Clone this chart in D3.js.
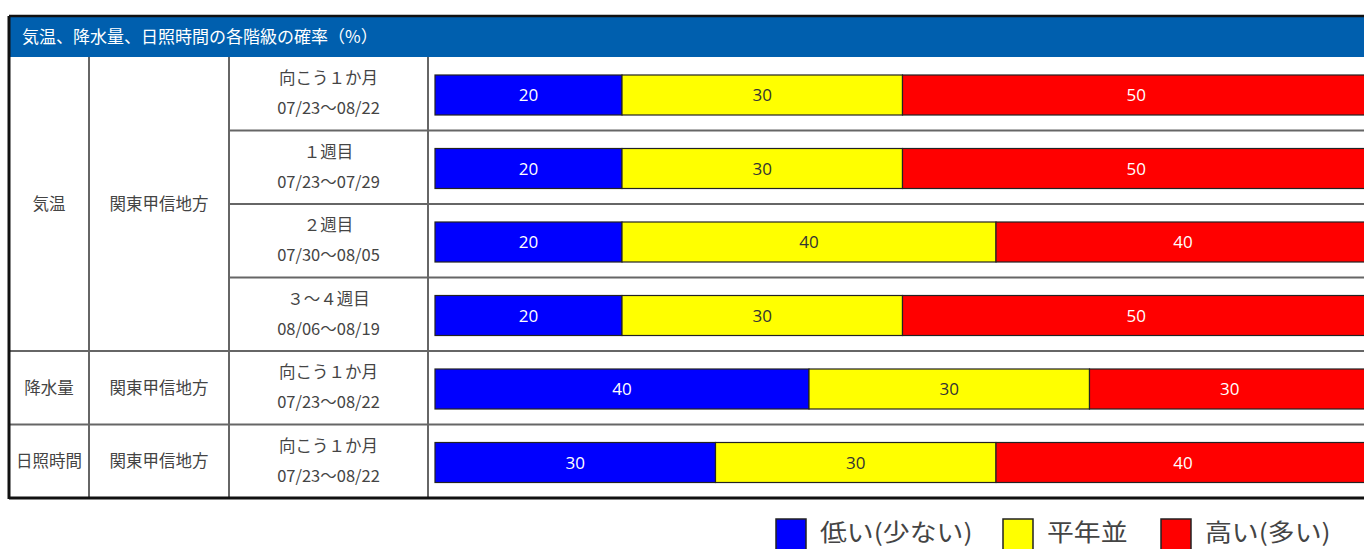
<!DOCTYPE html>
<html>
<head>
<meta charset="utf-8">
<script src="https://cdn.jsdelivr.net/npm/d3@7"></script>
<style>
html,body{margin:0;padding:0;background:#fff;overflow:hidden;}
svg{display:block;font-family:"Noto Sans CJK JP","Noto Sans",sans-serif;}
</style>
</head>
<body>
<div id="chart"></div>
<script>
const title = "気温、降水量、日照時間の各階級の確率（%）";
const elements = ["気温", "気温", "気温", "気温", "降水量", "日照時間"];
const regions = ["関東甲信地方", "関東甲信地方", "関東甲信地方", "関東甲信地方", "関東甲信地方", "関東甲信地方"];
const periods = ["向こう１か月", "１週目", "２週目", "３～４週目", "向こう１か月", "向こう１か月"];
const dates = ["07/23～08/22", "07/23～07/29", "07/30～08/05", "08/06～08/19", "07/23～08/22", "07/23～08/22"];
const low = [20, 20, 20, 20, 40, 30];
const normal = [30, 30, 40, 30, 30, 30];
const high = [50, 50, 40, 50, 30, 40];
const seriesNames = ["低い(少ない)", "平年並", "高い(多い)"];
const seriesColors = ["#0000ff", "#ffff00", "#ff0000"];

const W = 1364, H = 549;
const svg = d3.select("#chart").append("svg").attr("width", W).attr("height", H);

const tableLeft = 9, tableTop = 16, titleBottom = 57, tableBottom = 498;
const colX = [tableLeft, 89, 229, 428];

const rows = d3.range(periods.length);
const y = d3.scaleBand().domain(rows).range([titleBottom, tableBottom]);
const x = d3.scaleLinear().domain([0, 100]).range([435, 1370]);

// title bar
svg.append("rect").attr("x", tableLeft).attr("y", tableTop).attr("width", W).attr("height", titleBottom - tableTop)
  .attr("fill", "#005fae");
svg.append("line").attr("x1", tableLeft).attr("x2", W).attr("y1", tableTop).attr("y2", tableTop)
  .attr("stroke", "#111").attr("stroke-width", 2.5);
svg.append("text").attr("x", 22).attr("y", titleBottom - 20.5 + 6)
  .attr("fill", "#fff").attr("font-size", 17).text(title);

// grid lines
const g = svg.append("g");
rows.slice(1).forEach(i => {
  const yy = y(i);
  const startX = (i >= 1 && i <= 3) ? colX[2] : tableLeft;
  g.append("line").attr("x1", startX).attr("x2", W).attr("y1", yy).attr("y2", yy)
    .attr("stroke", "#666").attr("stroke-width", 2);
});
[1, 2, 3].forEach(c => {
  g.append("line").attr("x1", colX[c]).attr("x2", colX[c]).attr("y1", titleBottom).attr("y2", tableBottom)
    .attr("stroke", "#666").attr("stroke-width", 2);
});
g.append("line").attr("x1", tableLeft).attr("x2", tableLeft).attr("y1", tableTop).attr("y2", tableBottom + 1)
  .attr("stroke", "#111").attr("stroke-width", 3);
g.append("line").attr("x1", tableLeft).attr("x2", W).attr("y1", tableBottom).attr("y2", tableBottom)
  .attr("stroke", "#111").attr("stroke-width", 3);

const txtColor = "#444";
const groups = d3.groups(rows, i => elements[i] + "|" + (i <= 3 ? "a" : i));
groups.forEach(([key, idx]) => {
  const y0 = y(idx[0]), y1 = y(idx[idx.length - 1]) + y.bandwidth();
  const cy = (y0 + y1) / 2;
  svg.append("text").attr("x", (colX[0] + colX[1]) / 2).attr("y", cy + 6)
    .attr("text-anchor", "middle").attr("font-size", 16.5).attr("fill", txtColor).text(elements[idx[0]]);
  svg.append("text").attr("x", (colX[1] + colX[2]) / 2).attr("y", cy + 6)
    .attr("text-anchor", "middle").attr("font-size", 16.5).attr("fill", txtColor).text(regions[idx[0]]);
});

rows.forEach(i => {
  const cx = (colX[2] + colX[3]) / 2;
  const top = y(i);
  svg.append("text").attr("x", cx).attr("y", top + 27).attr("text-anchor", "middle")
    .attr("font-size", 16.5).attr("fill", txtColor).text(periods[i]);
  svg.append("text").attr("x", cx).attr("y", top + 57).attr("text-anchor", "middle")
    .attr("font-size", 16.5).attr("fill", txtColor).text(dates[i]);
});

const data = rows.map(i => ({i, low: low[i], normal: normal[i], high: high[i]}));
const stack = d3.stack().keys(["low", "normal", "high"]);
const series = stack(data);
const barOffset = 18, barH = 40;
series.forEach((s, si) => {
  const gg = svg.append("g");
  gg.selectAll("rect").data(s).join("rect")
    .attr("x", d => x(d[0])).attr("width", d => x(d[1]) - x(d[0]))
    .attr("y", d => y(d.data.i) + barOffset).attr("height", barH)
    .attr("fill", seriesColors[si]).attr("stroke", "#222").attr("stroke-width", 1.2);
  gg.selectAll("text").data(s).join("text")
    .attr("x", d => (x(d[0]) + x(d[1])) / 2)
    .attr("y", d => y(d.data.i) + barOffset + barH / 2 + 6)
    .attr("text-anchor", "middle").attr("font-size", 17)
    .attr("font-family", "'Open Sans','Noto Sans',sans-serif")
    .attr("fill", si === 1 ? "#333" : "#fff")
    .text(d => d[1] - d[0]);
});

// legend
const legendX = [776, 1003, 1161];
seriesNames.forEach((n, k) => {
  svg.append("rect").attr("x", legendX[k]).attr("y", 519).attr("width", 30).attr("height", 32)
    .attr("fill", seriesColors[k]).attr("stroke", "#222").attr("stroke-width", 1.5);
  svg.append("text").attr("transform", `translate(${legendX[k] + 44},541) scale(1.12,1)`)
    .attr("font-size", 24).attr("fill", txtColor).text(n);
});
</script>
</body>
</html>
